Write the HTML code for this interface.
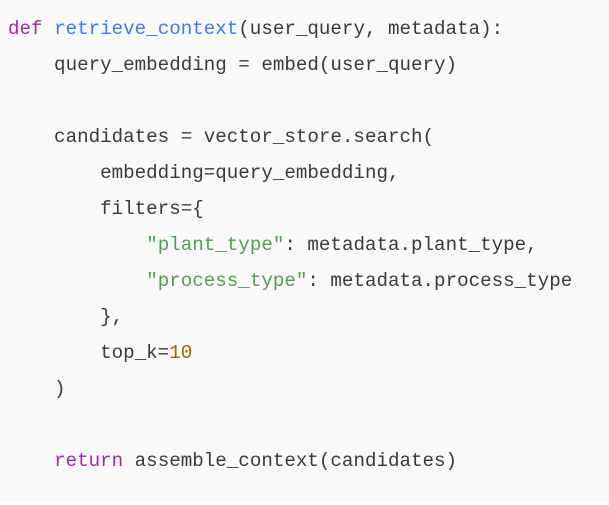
<!DOCTYPE html>
<html><head><style>
html,body{margin:0;padding:0;background:#fff;}
.c{position:absolute;left:0;top:0;width:609px;height:502px;background:#f9f9f9;}
pre{margin:0;position:absolute;left:8px;top:11px;font-family:"Liberation Mono",monospace;font-size:19.2px;line-height:36px;color:#383a42;}
.k{color:#a626a4}.f{color:#4078f2}.s{color:#50a14f}.n{color:#986801}
</style></head><body><div class="c"><pre><span class="k">def</span> <span class="f">retrieve_context</span>(user_query, metadata):
    query_embedding = embed(user_query)

    candidates = vector_store.search(
        embedding=query_embedding,
        filters={
            <span class="s">"plant_type"</span>: metadata.plant_type,
            <span class="s">"process_type"</span>: metadata.process_type
        },
        top_k=<span class="n">10</span>
    )

    <span class="k">return</span> assemble_context(candidates)</pre></div></body></html>
